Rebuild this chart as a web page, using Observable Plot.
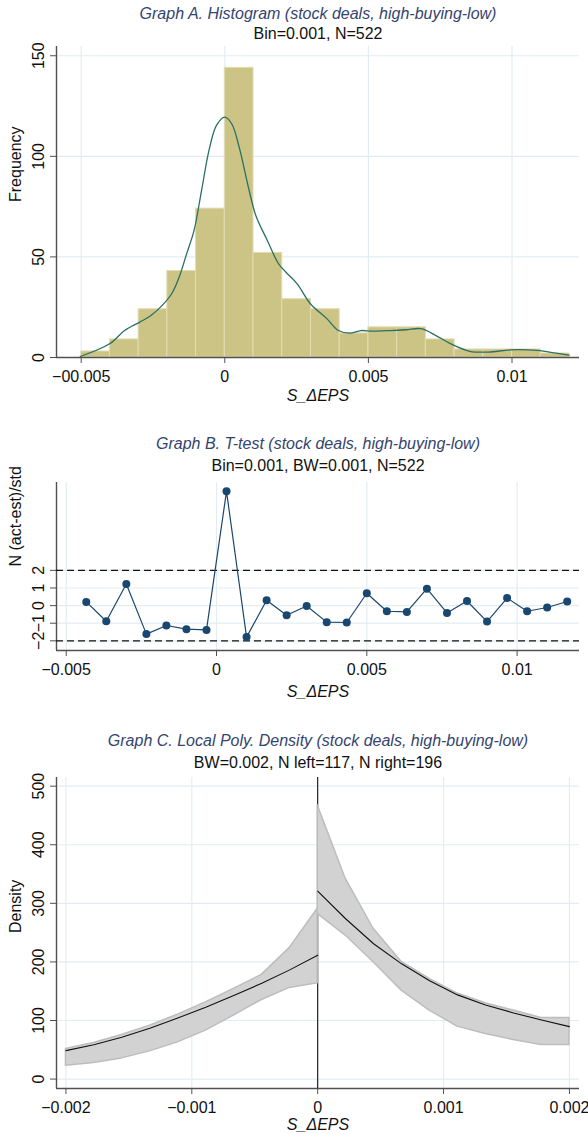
<!DOCTYPE html>
<html><head><meta charset="utf-8">
<script src="https://cdn.jsdelivr.net/npm/d3@7"></script>
<script src="https://cdn.jsdelivr.net/npm/@observablehq/plot@0.6"></script>
<style>
html,body{margin:0;padding:0;background:#fff;}
#root{width:588px;height:1134px;overflow:hidden;position:relative;}
#root svg{display:block;overflow:visible;}
</style></head><body><div id="root"></div>
<script>
// ---------- Graph A: histogram ----------
const titleA = "Graph A. Histogram (stock deals, high-buying-low)";
const subtitleA = "Bin=0.001, N=522";
const binEdgesA = [-0.005,-0.004,-0.003,-0.002,-0.001,0,0.001,0.002,0.003,0.004,0.005,0.006,0.007,0.008,0.009,0.010,0.011,0.012];
const countsA = [3,9,24,43,74,144,52,29,24,12,15,15,9,4,4,4,2];
const kdX = [-0.00503,-0.00401,-0.00349,-0.00296,-0.00257,-0.00218,-0.00185,-0.00159,-0.00133,-0.00107,-0.00081,-0.00055,-0.00029,0.0000,0.00024,0.0005,0.00082,0.00108,0.00148,0.00187,0.00213,0.00252,0.00298,0.00356,0.00396,0.00435,0.00474,0.00513,0.00578,0.00631,0.00683,0.00735,0.00787,0.00853,0.00918,0.00996,0.01088,0.01153,0.01199];
const kdY = [0.5,6.8,13.4,17.6,20.9,25.9,31.7,39.9,51.5,63.2,83,103,115.4,119.5,116.2,104.6,84.7,70.6,58.2,46.6,42.4,36.6,26.7,19.2,13.4,12.1,13.4,13.1,13.4,13.8,14.3,10.9,6.8,3.1,2.7,3.8,3.5,2.2,1.2];
const xTicksA = [-0.005,0,0.005,0.01];
const xTickLabelsA = ["\u221200.005","0","0.005","0.01"];
const yTicksA = [0,50,100,150];
const yTickLabelsA = ["0","50","100","150"];
const xDomainA = [-0.00586,0.01235];
const yDomainA = [0,154.6];

// ---------- Graph B: t-test ----------
const titleB = "Graph B. T-test (stock deals, high-buying-low)";
const subtitleB = "Bin=0.001, BW=0.001, N=522";
const ptX = [-0.004333,-0.003667,-0.003,-0.002333,-0.001667,-0.001,-0.000333,0.000333,0.001,0.001667,0.002333,0.003,0.003667,0.004333,0.005,0.005667,0.006333,0.007,0.007667,0.008333,0.009,0.009667,0.010333,0.011,0.011667];
const ptY = [0.21,-0.89,1.23,-1.62,-1.13,-1.34,-1.38,6.49,-1.79,0.30,-0.55,-0.02,-0.94,-0.96,0.70,-0.32,-0.36,0.96,-0.42,0.26,-0.91,0.43,-0.32,-0.11,0.23];
const refLinesB = [-2,2];
const xTicksB = [-0.005,0,0.005,0.01];
const xTickLabelsB = ["\u22120.005","0","0.005","0.01"];
const yTicksB = [-2,-1,0,1,2];
const yTickLabelsB = ["\u22122","\u22121","0","1","2"];
const xDomainB = [-0.005323,0.012076];
const yDomainB = [-2.55,6.99];

// ---------- Graph C: local poly density ----------
const titleC = "Graph C. Local Poly. Density (stock deals, high-buying-low)";
const subtitleC = "BW=0.002, N left=117, N right=196";
const gridLeftC = [-0.002,-0.001778,-0.001556,-0.001333,-0.001111,-0.000889,-0.000667,-0.000444,-0.000222,0];
const lineLeftC = [48.5,58.7,71.3,86.7,104.3,122.6,142.5,163.6,186.4,211.5];
const upperLeftC = [51.3,61.6,75.3,91.2,110,131,154,177.9,224,290.8];
const lowerLeftC = [22.8,27.4,35.3,47.3,62.7,82.7,108.3,135,155.6,163.6];
const gridRightC = [0,0.000222,0.000444,0.000667,0.000889,0.001111,0.001333,0.001556,0.001778,0.002];
const lineRightC = [321,273.7,231,196.7,168,143.7,126.6,112.9,100.9,89.5];
const upperRightC = [467.5,342,256.6,200,171,146,129.4,116.9,104.3,104.3];
const lowerRightC = [282,245,199.5,151,116.9,89.5,77,66.7,58.2,58.2];
const cutoffC = [0];
const xTicksC = [-0.002,-0.001,0,0.001,0.002];
const xTickLabelsC = ["\u22120.002","\u22120.001","0","0.001","0.002"];
const yTicksC = [0,100,200,300,400,500];
const yTickLabelsC = ["0","100","200","300","400","500"];
const xDomainC = [-0.002075,0.00208];
const yDomainC = [-16.1,514.8];

const xLabel = "S_\u0394EPS";
const FONT = "'Liberation Sans', Arial, Helvetica, sans-serif";
const TITLE_COLOR = "#34446e";
const GRID = "#e3edf1";
const AXIS = "#505050";

function labelOf(ticks, labels) { return d => labels[ticks.indexOf(d)] ?? ""; }

function gridMarks(xTicks, yTicks) {
  return [
    Plot.gridX(xTicks, {stroke: GRID, strokeOpacity: 1, strokeWidth: 1.2}),
    Plot.gridY(yTicks, {stroke: GRID, strokeOpacity: 1, strokeWidth: 1.2})
  ];
}

function axisMarks({xTicks, xLabels, yTicks, yLabels, xDomain, yDomain, title, subtitle, titleDy, subDy, yTitle, xTitleDy}) {
  return [
    Plot.axisX(xTicks, {tickSize: 6, tickPadding: 7, tickFormat: labelOf(xTicks, xLabels), stroke: AXIS, fill: "#111", fontSize: 16, label: null}),
    Plot.axisY(yTicks, {tickSize: 6, tickPadding: 7, tickRotate: -90, tickFormat: labelOf(yTicks, yLabels), stroke: AXIS, fill: "#111", fontSize: 16, label: null}),
    Plot.ruleX([xDomain[0]], {stroke: AXIS, strokeWidth: 1.4}),
    Plot.ruleY([yDomain[0]], {stroke: AXIS, strokeWidth: 1.4}),
    Plot.text([title], {frameAnchor: "top", lineAnchor: "middle", dy: titleDy, fontSize: 16, fontStyle: "italic", fill: TITLE_COLOR}),
    Plot.text([subtitle], {frameAnchor: "top", lineAnchor: "middle", dy: subDy, fontSize: 16, fill: "#111"}),
    Plot.text([xLabel], {frameAnchor: "bottom", lineAnchor: "middle", dy: xTitleDy, fontSize: 16, fontStyle: "italic", fill: "#111"}),
    Plot.text([yTitle], {frameAnchor: "left", lineAnchor: "middle", dx: -41, rotate: -90, fontSize: 16, fill: "#111"})
  ];
}

const styleObj = {fontFamily: FONT, fontSize: "16px", background: "#fff", color: "#111", overflow: "visible"};

// Chart A
const binsA = countsA.map((c, i) => ({x1: binEdgesA[i], x2: binEdgesA[i + 1], y: c}));
const kdA = kdX.map((x, i) => ({x, y: kdY[i]}));
const chartA = Plot.plot({
  width: 588, height: 420,
  marginTop: 46, marginBottom: 63, marginLeft: 56, marginRight: 9,
  style: styleObj,
  x: {domain: xDomainA, axis: null},
  y: {domain: yDomainA, axis: null},
  marks: [
    ...gridMarks(xTicksA, yTicksA),
    Plot.rectY(binsA, {x1: "x1", x2: "x2", y: "y", fill: "#ccc485", stroke: "#e2dcb2", strokeWidth: 1}),
    Plot.line(kdA, {x: "x", y: "y", curve: "catmull-rom", stroke: "#2b6f65", strokeWidth: 1.3}),
    ...axisMarks({xTicks: xTicksA, xLabels: xTickLabelsA, yTicks: yTicksA, yLabels: yTickLabelsA, xDomain: xDomainA, yDomain: yDomainA,
      title: titleA, subtitle: subtitleA, titleDy: -33, subDy: -13, yTitle: "Frequency", xTitleDy: 38})
  ]
});

// Chart B
const ptsB = ptX.map((x, i) => ({x, y: ptY[i]}));
const chartB = Plot.plot({
  width: 588, height: 285,
  marginTop: 62, marginBottom: 55, marginLeft: 56, marginRight: 9,
  style: styleObj,
  x: {domain: xDomainB, axis: null},
  y: {domain: yDomainB, axis: null},
  marks: [
    ...gridMarks(xTicksB, yTicksB),
    ...axisMarks({xTicks: xTicksB, xLabels: xTickLabelsB, yTicks: yTicksB, yLabels: yTickLabelsB, xDomain: xDomainB, yDomain: yDomainB,
      title: titleB, subtitle: subtitleB, titleDy: -39, subDy: -17, yTitle: "N (act-est)/std", xTitleDy: 41}),
    Plot.ruleY(refLinesB, {stroke: "#111", strokeWidth: 1.3, strokeDasharray: "7,4"}),
    Plot.line(ptsB, {x: "x", y: "y", stroke: "#1a476f", strokeWidth: 1.2}),
    Plot.dot(ptsB, {x: "x", y: "y", r: 4, fill: "#1a476f", stroke: "none"})
  ]
});

// Chart C
const leftC = gridLeftC.map((x, i) => ({x, y: lineLeftC[i], lo: lowerLeftC[i], hi: upperLeftC[i]}));
const rightC = gridRightC.map((x, i) => ({x, y: lineRightC[i], lo: lowerRightC[i], hi: upperRightC[i]}));
const chartC = Plot.plot({
  width: 588, height: 429,
  marginTop: 72, marginBottom: 46, marginLeft: 56, marginRight: 9,
  style: styleObj,
  x: {domain: xDomainC, axis: null},
  y: {domain: yDomainC, axis: null},
  marks: [
    ...gridMarks(xTicksC, yTicksC),
    ...axisMarks({xTicks: xTicksC, xLabels: xTickLabelsC, yTicks: yTicksC, yLabels: yTickLabelsC, xDomain: xDomainC, yDomain: yDomainC,
      title: titleC, subtitle: subtitleC, titleDy: -37, subDy: -15, yTitle: "Density", xTitleDy: 36}),
    Plot.ruleX(cutoffC, {stroke: "#111", strokeWidth: 1.1}),
    Plot.areaY(leftC, {x: "x", y1: "lo", y2: "hi", fill: "#d2d2d2", stroke: "#bdbdbd", strokeWidth: 1.5}),
    Plot.areaY(rightC, {x: "x", y1: "lo", y2: "hi", fill: "#d2d2d2", stroke: "#bdbdbd", strokeWidth: 1.5}),
    Plot.line(leftC, {x: "x", y: "y", stroke: "#111", strokeWidth: 1.1}),
    Plot.line(rightC, {x: "x", y: "y", stroke: "#111", strokeWidth: 1.1})
  ]
});

const root = document.getElementById("root");
root.append(chartA, chartB, chartC);
</script></body></html>
